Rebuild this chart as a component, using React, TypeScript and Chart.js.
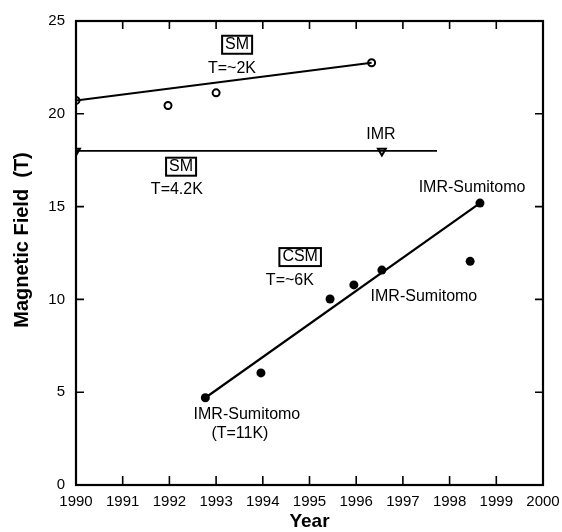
import React, { useEffect, useRef } from 'react';
import { Chart, registerables } from 'chart.js';

Chart.register(...registerables);

// Axis ticks
const xTicks = [1990, 1991, 1992, 1993, 1994, 1995, 1996, 1997, 1998, 1999, 2000];
const yTicks = [0, 5, 10, 15, 20, 25];

// SM, T=~2K (open circles) and its fit line
const sm2kYears = [1990.0, 1991.97, 1993.0, 1996.33];
const sm2kField = [20.72, 20.45, 21.13, 22.75];
const sm2kFitYears = [1990.0, 1996.33];
const sm2kFitField = [20.72, 22.75];

// SM, T=4.2K (open triangles) and its level line
const sm42Years = [1990.0, 1996.55];
const sm42Field = [18.0, 18.0];
const sm42LineYears = [1990.0, 1997.73];
const sm42LineField = [18.0, 18.0];

// CSM, T=~6K (filled circles) and its fit line
const csmYears = [1992.77, 1993.96, 1995.44, 1995.95, 1996.55, 1998.44, 1998.65];
const csmField = [4.7, 6.04, 10.02, 10.78, 11.58, 12.05, 15.19];
const csmFitYears = [1992.77, 1998.65];
const csmFitField = [4.7, 15.19];

// Annotations
const noteTexts = ['SM', 'T=~2K', 'IMR', 'SM', 'T=4.2K', 'IMR-Sumitomo', 'CSM', 'T=~6K', 'IMR-Sumitomo', 'IMR-Sumitomo', '(T=11K)'];
const noteYears = [1993.45, 1993.34, 1996.53, 1992.25, 1992.16, 1998.48, 1994.8, 1994.58, 1997.45, 1993.66, 1993.51];
const noteFields = [23.72, 22.45, 18.9, 17.15, 15.9, 16.04, 12.28, 10.99, 10.13, 3.77, 2.75];
const noteBoxed = [true, false, false, true, false, false, true, false, false, false, false];

const yTitle = 'Magnetic Field  (T)';
const xTitle = 'Year';

const FONT = '"Liberation Sans", Arial, Helvetica, sans-serif';

const pts = (xs: number[], ys: number[]) => xs.map((x, i) => ({ x, y: ys[i] }));

const framePlugin = {
  id: 'frame',
  afterDatasetsDraw(chart: any) {
    const { ctx, chartArea } = chart;
    const xs = chart.scales.x;
    const ys = chart.scales.y;
    const { left, right, top, bottom } = chartArea;
    ctx.save();
    ctx.strokeStyle = '#000';
    ctx.lineWidth = 2.2;
    ctx.strokeRect(left, top, right - left, bottom - top);
    ctx.lineWidth = 1.6;
    ctx.beginPath();
    xTicks.forEach((v) => {
      const px = xs.getPixelForValue(v);
      ctx.moveTo(px, bottom);
      ctx.lineTo(px, bottom - 9);
      ctx.moveTo(px, top);
      ctx.lineTo(px, top + 8);
    });
    yTicks.forEach((v) => {
      const py = ys.getPixelForValue(v);
      ctx.moveTo(left, py);
      ctx.lineTo(left + 8, py);
      ctx.moveTo(right, py);
      ctx.lineTo(right - 8, py);
    });
    ctx.stroke();

    ctx.fillStyle = '#000';
    ctx.font = `16px ${FONT}`;
    ctx.textAlign = 'center';
    ctx.textBaseline = 'middle';
    noteTexts.forEach((t, i) => {
      const px = xs.getPixelForValue(noteYears[i]);
      const py = ys.getPixelForValue(noteFields[i]);
      ctx.fillText(t, px, py);
      if (noteBoxed[i]) {
        const w = ctx.measureText(t).width + 6;
        const h = 18;
        ctx.lineWidth = 2;
        ctx.strokeRect(px - w / 2, py - h / 2, w, h);
      }
    });

    // y-axis title, centred like the original
    ctx.font = `bold 20px ${FONT}`;
    ctx.translate(22, (top + bottom) / 2 - 13);
    ctx.rotate(-Math.PI / 2);
    ctx.fillText(yTitle, 0, 0);
    ctx.restore();
  },
};

export default function App() {
  const ref = useRef<HTMLCanvasElement | null>(null);
  useEffect(() => {
    if (!ref.current) return;
    const chart = new Chart(ref.current, {
      type: 'scatter',
      data: {
        datasets: [
          {
            type: 'line',
            data: pts(sm2kFitYears, sm2kFitField),
            borderColor: '#000',
            borderWidth: 2,
            pointRadius: 0,
            showLine: true,
          },
          {
            type: 'line',
            data: pts(sm42LineYears, sm42LineField),
            borderColor: '#000',
            borderWidth: 1.6,
            pointRadius: 0,
            showLine: true,
          },
          {
            type: 'line',
            data: pts(csmFitYears, csmFitField),
            borderColor: '#000',
            borderWidth: 2.2,
            pointRadius: 0,
            showLine: true,
          },
          {
            data: pts(sm2kYears, sm2kField),
            pointStyle: 'circle',
            pointRadius: 3.5,
            borderWidth: 2,
            borderColor: '#000',
            backgroundColor: '#fff',
          },
          {
            data: pts(sm42Years, sm42Field),
            pointStyle: 'triangle',
            rotation: 180,
            pointRadius: 4.5,
            borderWidth: 2,
            borderColor: '#000',
            backgroundColor: '#fff',
          },
          {
            data: pts(csmYears, csmField),
            pointStyle: 'circle',
            pointRadius: 4.5,
            borderWidth: 0,
            borderColor: '#000',
            backgroundColor: '#000',
          },
        ],
      },
      options: {
        animation: false,
        responsive: false,
        devicePixelRatio: 1,
        layout: { padding: { left: 0, top: 21, right: 19, bottom: 0 } },
        plugins: { legend: { display: false }, tooltip: { enabled: false } },
        scales: {
          x: {
            type: 'linear',
            min: 1990,
            max: 2000,
            afterFit: (s: any) => { s.height = 47; s.paddingRight = 0; s.paddingLeft = 0; },
            afterBuildTicks: (s: any) => { s.ticks = xTicks.map((v) => ({ value: v })); },
            grid: { display: false, drawTicks: false },
            border: { display: false },
            ticks: {
              padding: 8,
              color: '#000',
              font: { family: FONT, size: 15 },
              callback: (v: any) => String(v),
            },
            title: {
              display: true,
              text: xTitle,
              color: '#000',
              font: { family: FONT, size: 19, weight: 'bold' },
              padding: { top: 0, bottom: -1 },
            },
          },
          y: {
            type: 'linear',
            min: 0,
            max: 25,
            afterFit: (s: any) => { s.width = 76; s.paddingTop = 0; s.paddingBottom = 0; },
            afterBuildTicks: (s: any) => { s.ticks = yTicks.map((v) => ({ value: v })); },
            grid: { display: false, drawTicks: false },
            border: { display: false },
            ticks: {
              padding: 11,
              color: '#000',
              font: { family: FONT, size: 15 },
              callback: (v: any) => String(v),
            },
            title: { display: false },
          },
        },
      },
      plugins: [framePlugin],
    } as any);
    return () => chart.destroy();
  }, []);
  return (
    <div style={{ position: 'absolute', left: 0, top: 0, width: 562, height: 532, background: '#fff' }}>
      <canvas ref={ref} width={562} height={532} />
    </div>
  );
}
